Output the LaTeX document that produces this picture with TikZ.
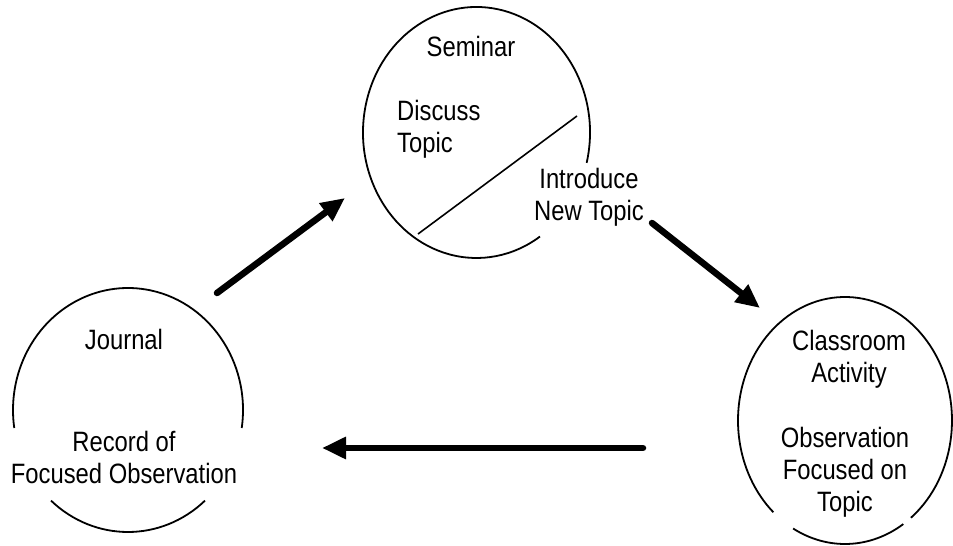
\documentclass[tikz,border=0pt]{standalone}
\usepackage{fontspec}
\setmainfont[FakeStretch=0.85]{Liberation Sans}
\usetikzlibrary{arrows.meta,shapes.geometric}

\begin{document}
\begin{tikzpicture}[x=1pt,y=1pt,
  every node/.style={font=\fontsize{28}{32}\selectfont, inner sep=0pt},
  rim/.style={line width=1.8pt},
  hole/.style={ellipse, draw=none, inner sep=0pt},
  flow/.style={line width=6.5pt, line cap=round,
    -{Triangle[length=24pt,width=21pt]}},
  label/.style={align=center}]

  \useasboundingbox (0,0) rectangle (953,546);

  % the three stations of the cycle
  \node[hole, minimum width=227pt, minimum height=251pt] (sem) at (476.5,413.5) {};
  \node[hole, minimum width=230pt, minimum height=244pt] (jour) at (128,136) {};
  \node[hole, minimum width=214pt, minimum height=247pt] (class) at (845,125.5) {};

  % seminar outline, open at the lower right
  \draw[rim] ([shift={(-14:113.5pt and 125.5pt)}]sem.center)
    arc[start angle=-14, end angle=304, x radius=113.5pt, y radius=125.5pt];
  % journal outline, open left and right of the bottom
  \draw[rim] ([shift={(-8.5:115pt and 122pt)}]jour.center)
    arc[start angle=-8.5, end angle=188.5, x radius=115pt, y radius=122pt];
  \draw[rim] ([shift={(228:115pt and 122pt)}]jour.center)
    arc[start angle=228, end angle=312, x radius=115pt, y radius=122pt];
  % classroom outline, two small breaks near the bottom
  \draw[rim] ([shift={(308:107pt and 123.5pt)}]class.center)
    arc[start angle=308, end angle=588, x radius=107pt, y radius=123.5pt];
  \draw[rim] ([shift={(241:107pt and 123.5pt)}]class.center)
    arc[start angle=241, end angle=303, x radius=107pt, y radius=123.5pt];

  % divider inside the seminar
  \coordinate (divA) at (418,312);
  \coordinate (divB) at (577,430);
  \draw[line width=1.6pt] (divA) -- (divB);

  % texts
  \node (semT) at (471,500) {Seminar};
  \node[align=left, anchor=west] (disc) at (397,417) {Discuss\\Topic};
  \node[label] (intro) at (589,349) {Introduce\\New Topic};
  \node (jourT) at (124,207) {Journal};
  \node[label] (rec) at (124,89) {Record of\\Focused Observation};
  \node[label] (classT) at (849,187) {Classroom\\Activity};
  \node[label] (obs) at (845,74) {Observation\\Focused on\\Topic};

  % arrow end points
  \coordinate (a1s) at (217,253);
  \coordinate (a1e) at (345,348);
  \coordinate (a2s) at (652,323);
  \coordinate (a2e) at (760,238);
  \coordinate (a3s) at (643,98);
  \coordinate (a3e) at (322,98);

  \draw[flow] (a1s) -- (a1e);
  \draw[flow] (a2s) -- (a2e);
  \draw[flow] (a3s) -- (a3e);
\end{tikzpicture}
\end{document}
